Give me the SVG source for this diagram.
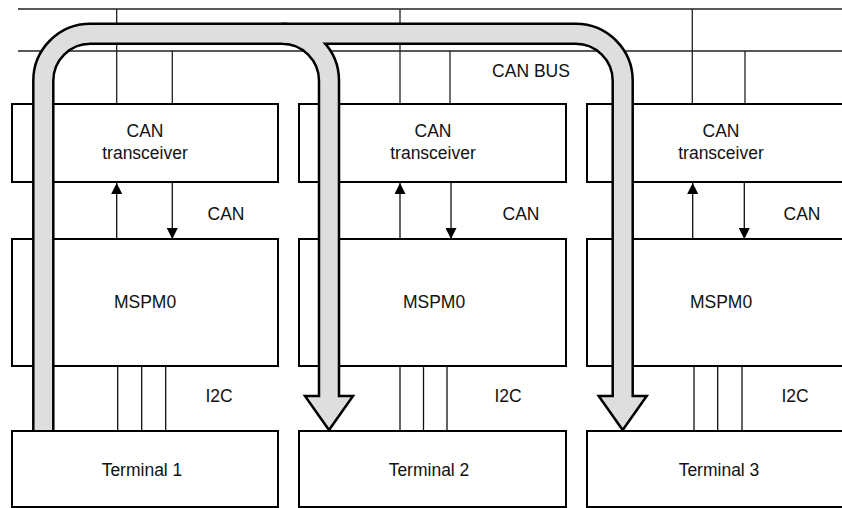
<svg xmlns="http://www.w3.org/2000/svg" width="842" height="508" viewBox="0 0 842 508">
<style>
  .box { fill: #ffffff; stroke: #000; stroke-width: 2; }
  .bus { stroke: #222; stroke-width: 1.3; fill: none; }
  .wire { stroke: #111; stroke-width: 1.3; fill: none; }
  .lbl { font-family: "Liberation Sans", Arial, sans-serif; font-size: 17.5px; fill: #111; text-anchor: middle; }
  .pipe-o { fill: none; stroke: #000; stroke-width: 22.5; stroke-linecap: butt; }
  .pipe-i { fill: none; stroke: #dedede; stroke-width: 17.5; stroke-linecap: butt; }
  .head { fill: #dedede; stroke: #000; stroke-width: 2.5; stroke-linejoin: miter; }
</style>
<defs>
  <marker id="ah" viewBox="0 0 11 11" refX="11" refY="5.5" markerWidth="11" markerHeight="11" markerUnits="userSpaceOnUse" orient="auto">
    <path d="M0,0 L11,5.5 L0,11 z" fill="#000"/>
  </marker>
</defs>
<rect width="842" height="508" fill="#ffffff"/>

<g id="can-bus">
  <line class="bus" x1="18" y1="9" x2="842" y2="9"/>
  <line class="bus" x1="18" y1="51" x2="842" y2="51"/>
  <line class="bus" x1="116.7" y1="9" x2="116.7" y2="104"/>
  <line class="bus" x1="172.3" y1="51" x2="172.3" y2="104"/>
  <line class="bus" x1="400" y1="9" x2="400" y2="104"/>
  <line class="bus" x1="450" y1="51" x2="450" y2="104"/>
  <line class="bus" x1="692.3" y1="9" x2="692.3" y2="104"/>
  <line class="bus" x1="745" y1="51" x2="745" y2="104"/>
  <text class="lbl" x="531" y="77">CAN BUS</text>
</g>

<g id="transceiver1">
  <rect class="box" x="12" y="104" width="266" height="78"/>
  <text class="lbl" x="145" y="137">CAN</text>
  <text class="lbl" x="145" y="159">transceiver</text>
</g>
<g id="transceiver2">
  <rect class="box" x="299" y="104" width="267" height="78"/>
  <text class="lbl" x="433" y="137">CAN</text>
  <text class="lbl" x="433" y="159">transceiver</text>
</g>
<g id="transceiver3">
  <rect class="box" x="587" y="104" width="280" height="78"/>
  <text class="lbl" x="721" y="137">CAN</text>
  <text class="lbl" x="721" y="159">transceiver</text>
</g>

<g id="mspm0-1">
  <rect class="box" x="12" y="239" width="266" height="127"/>
  <text class="lbl" x="145" y="308">MSPM0</text>
</g>
<g id="mspm0-2">
  <rect class="box" x="299" y="239" width="267" height="127"/>
  <text class="lbl" x="434" y="308">MSPM0</text>
</g>
<g id="mspm0-3">
  <rect class="box" x="587" y="239" width="280" height="127"/>
  <text class="lbl" x="721" y="308">MSPM0</text>
</g>

<g id="terminal1">
  <rect class="box" x="12" y="431" width="266" height="76"/>
  <text class="lbl" x="142" y="476">Terminal 1</text>
</g>
<g id="terminal2">
  <rect class="box" x="299" y="431" width="267" height="76"/>
  <text class="lbl" x="429" y="476">Terminal 2</text>
</g>
<g id="terminal3">
  <rect class="box" x="587" y="431" width="280" height="76"/>
  <text class="lbl" x="719" y="476">Terminal 3</text>
</g>

<g id="connectors">
  <line class="wire" x1="116.7" y1="239" x2="116.7" y2="183" marker-end="url(#ah)"/>
  <line class="wire" x1="172.3" y1="182" x2="172.3" y2="239" marker-end="url(#ah)"/>
  <line class="wire" x1="400" y1="239" x2="400" y2="183" marker-end="url(#ah)"/>
  <line class="wire" x1="451" y1="182" x2="451" y2="239" marker-end="url(#ah)"/>
  <line class="wire" x1="692.7" y1="239" x2="692.7" y2="183" marker-end="url(#ah)"/>
  <line class="wire" x1="744.3" y1="182" x2="744.3" y2="239" marker-end="url(#ah)"/>
  <text class="lbl" x="226" y="220">CAN</text>
  <text class="lbl" x="521" y="220">CAN</text>
  <text class="lbl" x="802" y="220">CAN</text>

  <line class="wire" x1="117.7" y1="366" x2="117.7" y2="431"/>
  <line class="wire" x1="141.7" y1="366" x2="141.7" y2="431"/>
  <line class="wire" x1="165.7" y1="366" x2="165.7" y2="431"/>
  <line class="wire" x1="400" y1="366" x2="400" y2="431"/>
  <line class="wire" x1="423.5" y1="366" x2="423.5" y2="431"/>
  <line class="wire" x1="447" y1="366" x2="447" y2="431"/>
  <line class="wire" x1="694" y1="366" x2="694" y2="431"/>
  <line class="wire" x1="717.7" y1="366" x2="717.7" y2="431"/>
  <line class="wire" x1="742" y1="366" x2="742" y2="431"/>
  <text class="lbl" x="219" y="401.5">I2C</text>
  <text class="lbl" x="508" y="401.5">I2C</text>
  <text class="lbl" x="795" y="401.5">I2C</text>
</g>

<g id="data-flow">
  <path class="pipe-o" d="M43.3,431 V80.8 A47,47 0 0 1 90.3,33.8 H575.7 A47,47 0 0 1 622.7,80.8 V396"/>
  <path class="pipe-o" d="M282,33.8 A47,47 0 0 1 329,80.8 V396"/>
  <polygon class="head" points="305,396 353,396 329,430"/>
  <polygon class="head" points="598.7,396 646.7,396 622.7,430"/>
  <path class="pipe-i" d="M43.3,430 V80.8 A47,47 0 0 1 90.3,33.8 H575.7 A47,47 0 0 1 622.7,80.8 V399"/>
  <path class="pipe-i" d="M282,33.8 A47,47 0 0 1 329,80.8 V399"/>
</g>
</svg>
